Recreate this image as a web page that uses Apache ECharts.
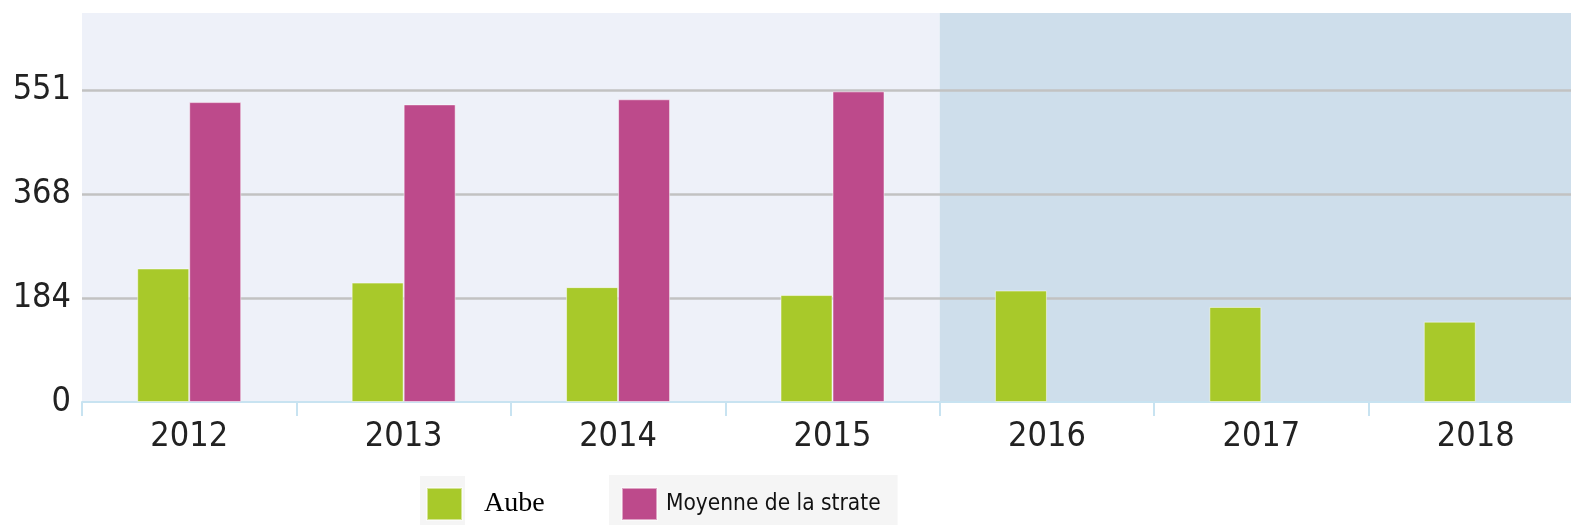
<!DOCTYPE html>
<html>
<head>
<meta charset="utf-8">
<script src="https://cdn.jsdelivr.net/npm/echarts@6/dist/echarts.min.js"></script>
<style>
  html, body { margin: 0; padding: 0; background: #fff; }
  #chart { width: 1571px; height: 525px; }
</style>
</head>
<body>
<div id="chart"></div>
<script>
const years = ['2012', '2013', '2014', '2015', '2016', '2017', '2018'];
const aube = [236, 211, 203, 189, 197, 168, 142];
const moyenne = [530, 526, 535, 549, null, null, null];
const yTickLabels = ['0', '184', '368', '551'];

let myChart = echarts.init(document.getElementById('chart'));
let option = {
    animation: false,
    grid: { left: 82, right: -12, top: 13, bottom: 123, outerBoundsMode: 'none' },
    graphic: [{
        type: 'rect',
        left: 420, top: 476,
        shape: { width: 45, height: 49 },
        style: { fill: '#f5f5f5' },
        z: -1
    }],
    legend: [{
        data: [{ name: 'Aube', textStyle: { fontFamily: 'Liberation Serif', fontSize: 28, color: '#000', padding: [14, 0, 0, 17] } }],
        left: 426, top: 487, padding: 0,
        icon: 'rect', itemWidth: 35, itemHeight: 32
    }, {
        data: ['Moyenne de la strate'],
        left: 609, top: 475, padding: [12, 17, 6, 12],
        backgroundColor: '#f5f5f5',
        icon: 'rect', itemWidth: 35, itemHeight: 32,
        textStyle: { fontFamily: 'DejaVu Sans Condensed', fontSize: 22.5, color: '#111', padding: [0, 0, 0, 4] }
    }],
    xAxis: {
        type: 'category',
        data: years,
        z: 0,
        axisLine: { lineStyle: { color: '#c8e3f1', width: 2 } },
        axisTick: { show: true, length: 14, lineStyle: { color: '#c8e3f1', width: 2 } },
        axisLabel: { fontFamily: 'DejaVu Sans Condensed', fontSize: 34, color: '#222', margin: 18 },
        splitArea: {
            show: true,
            areaStyle: { color: ['#eef1f9', '#eef1f9', '#eef1f9', '#eef1f9', '#cedeeb', '#cedeeb', '#cedeeb'] }
        }
    },
    yAxis: {
        type: 'value',
        z: 1,
        min: 0, max: 687.5, interval: 183.75,
        axisLine: { show: false },
        axisTick: { show: false },
        axisLabel: {
            fontFamily: 'DejaVu Sans Condensed', fontSize: 34, color: '#222', margin: 11,
            showMaxLabel: false,
            formatter: (v, i) => yTickLabels[i] || ''
        },
        splitLine: { showMinLine: false, showMaxLine: false, lineStyle: { color: '#c2c2c2', width: 2.5 } }
    },
    series: [{
        name: 'Aube', type: 'bar', data: aube,
        barWidth: 52, barGap: '0%', z: 3,
        itemStyle: { color: '#a8c92a', borderColor: 'rgba(255,255,255,0.5)', borderWidth: 1 }
    }, {
        name: 'Moyenne de la strate', type: 'bar', data: moyenne,
        barWidth: 52, barGap: '0%', z: 3,
        itemStyle: { color: '#bd4a8b', borderColor: 'rgba(255,255,255,0.5)', borderWidth: 1 }
    }]
};
option && myChart.setOption(option);
</script>
</body>
</html>
